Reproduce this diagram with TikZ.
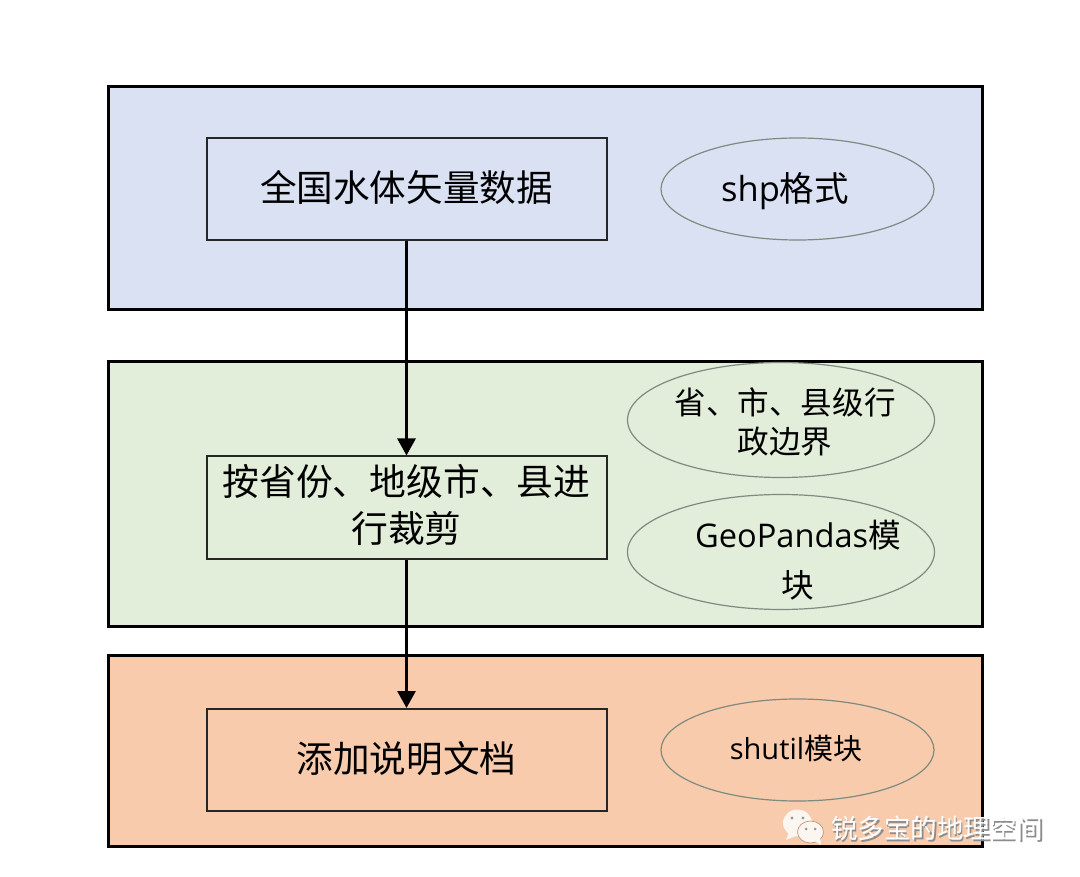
\documentclass[tikz,border=0pt]{standalone}
\usepackage{fontspec}
\setmainfont{Open Sans}
\newfontfamily\cjkf{Noto Sans CJK SC}
\newcommand{\zh}[1]{{\cjkf #1}}
\newcommand{\fs}[2]{\fontsize{#1}{#2}\selectfont}
% extra depth below a line lifts a centred text by half of it; extra height above lowers it
\newcommand{\padbelow}[2]{\raisebox{0pt}[\height][\dimexpr\depth+#1pt\relax]{#2}}
\newcommand{\padabove}[2]{\raisebox{0pt}[\dimexpr\height+#1pt\relax][\depth]{#2}}
\definecolor{bandblue}{HTML}{DAE1F3}
\definecolor{bandgreen}{HTML}{E2EEDA}
\definecolor{bandorange}{HTML}{F7CBAC}
\definecolor{ringgray}{HTML}{7F8A80}
\definecolor{chatwhite}{HTML}{FCF6F1}
\usetikzlibrary{shapes.geometric,arrows.meta}
\tikzset{
  x=1pt,y=-1pt,
  band/.style={draw=black,line width=3pt},
  stepbox/.style={draw=black!85,line width=2pt,minimum width=400pt,minimum height=102pt,inner sep=0pt,align=center,text=black},
  oval/.style={ellipse,draw=ringgray,line width=1.2pt,inner sep=-14pt,align=center,text=black},
  flow/.style={draw=black,line width=2.8pt,-{Triangle[length=17pt,width=18pt]}},
  chat/.style={fill=chatwhite,draw=none}
}
\begin{document}
\begin{tikzpicture}
\useasboundingbox (0,0) rectangle (1080,877);
\fill[white] (0,0) rectangle (1080,877);
\draw[band,fill=bandblue] (108,87) rectangle (982,310);
\draw[band,fill=bandgreen] (108,362) rectangle (982,626);
\draw[band,fill=bandorange] (108,655) rectangle (982,846);

\node[stepbox,font={\fs{36.6}{46}}] (src) at (406.5,189) {\padbelow{4}{\zh{全国水体矢量数据}}};
\node[stepbox,font={\fs{36.8}{47}}] (clip) at (406.5,507.5) {\zh{按省份、地级市、县进}\\\padbelow{6}{\zh{行裁剪}}};
\node[stepbox,font={\fs{36.6}{46}}] (doc) at (406.5,760) {\padbelow{3}{\zh{添加说明文档}}};

\node[oval,minimum width=273pt,minimum height=102pt,font={\fs{34.5}{40}}] (fmt) at (797.5,189) {\padabove{4}{shp\zh{格式}}\hspace*{25pt}};
\node[oval,minimum width=307pt,minimum height=115pt,font={\fs{31.6}{39.5}}] (admin) at (781,420) {\hspace*{8pt}\padabove{4}{\zh{省、市、县级行}}\\\hspace*{8pt}\zh{政边界}};
\node[oval,minimum width=307pt,minimum height=115pt,font={\fs{32.6}{50}}] (geo) at (781,552) {\hspace*{34pt}\padabove{16}{GeoPandas\zh{模}}\\\hspace*{34pt}\zh{块}};
\node[oval,minimum width=273pt,minimum height=102pt,font={\fs{29}{34}}] (shu) at (797.5,750) {\padbelow{2}{shutil\zh{模块}}\hspace*{3pt}};

\draw[flow] (src.south) -- (clip.north);
\draw[flow] (clip.south) -- (doc.north);

% WeChat mark and watermark
\fill[chat] (797.5,823) ellipse (14.5 and 13.5);
\fill[chat] (789,832) -- (786,840) -- (798,835) -- cycle;
\fill[black!40] (792,818) circle (1.6) (803,818) circle (1.6);
\fill[chat,draw=bandorange!75!black,line width=.7pt] (810.5,832) ellipse (13 and 11);
\fill[chat] (813,840) -- (821,845) -- (820,836) -- cycle;
\fill[black!40] (806,829) circle (1.5) (815,829) circle (1.5);
\node[inner sep=0pt,text=black!45] (wmshadow) at (938.5,830) {\fs{26.5}{30}\zh{锐多宝的地理空间}};
\node[inner sep=0pt,text=white] (wm) at (937,828.5) {\fs{26.5}{30}\zh{锐多宝的地理空间}};
\end{tikzpicture}
\end{document}
